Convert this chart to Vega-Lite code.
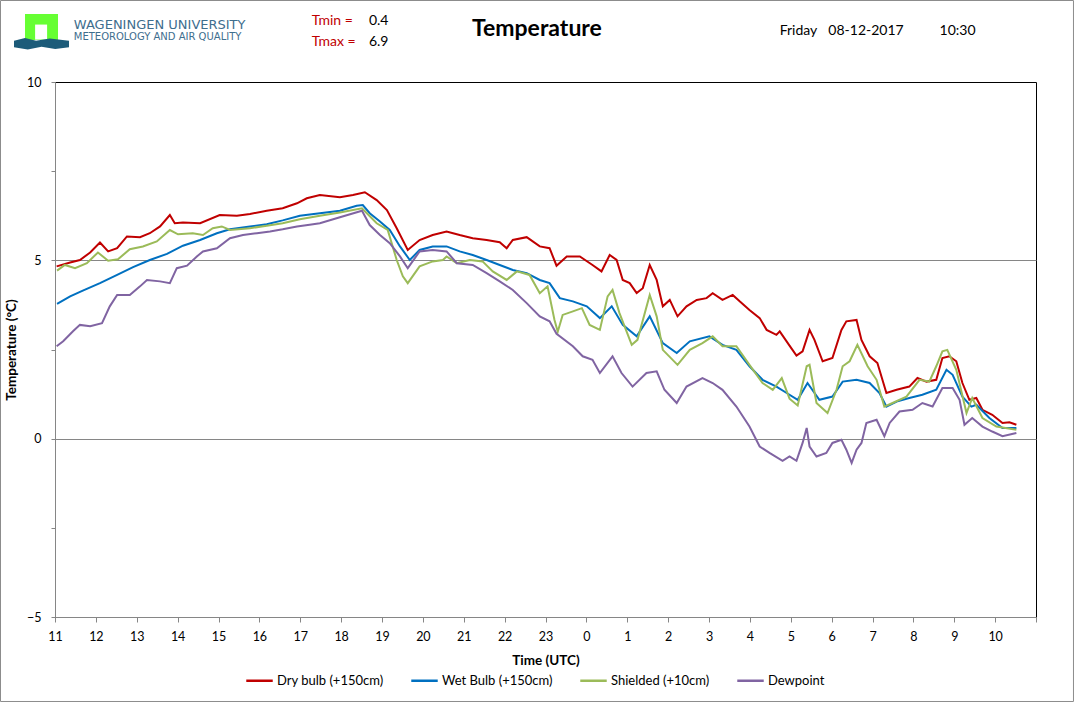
{
  "$schema": "https://vega.github.io/schema/vega-lite/v6.json",
  "description": "Wageningen University weather station: temperature over the last 24 hours",
  "width": 981,
  "height": 535,
  "autosize": {"type": "none"},
  "padding": {"left": 55, "top": 82, "right": 38, "bottom": 85},
  "background": "white",
  "config": {
    "font": "Lato",
    "view": {"stroke": "black", "strokeWidth": 1},
    "axis": {
      "domainColor": "#868686",
      "tickColor": "#868686",
      "gridColor": "#868686",
      "labelColor": "black",
      "labelFont": "Lato",
      "labelFontSize": 12.5,
      "labelFlush": false,
      "labelOverlap": false,
      "titleFont": "Lato",
      "titleFontSize": 13.5,
      "titleFontWeight": "bold",
      "titleColor": "black"
    },
    "legend": {
      "labelFont": "Lato",
      "labelFontSize": 13,
      "labelColor": "black",
      "labelLimit": 300
    }
  },
  "datasets": {
    "dry": [
      {"hour": 0.04, "temp": 4.83}, {"hour": 0.37, "temp": 4.94}, {"hour": 0.61, "temp": 5.01}, {"hour": 0.86, "temp": 5.22},
      {"hour": 1.10, "temp": 5.50}, {"hour": 1.30, "temp": 5.25}, {"hour": 1.52, "temp": 5.34}, {"hour": 1.76, "temp": 5.67},
      {"hour": 2.08, "temp": 5.65}, {"hour": 2.32, "temp": 5.76}, {"hour": 2.57, "temp": 5.95}, {"hour": 2.81, "temp": 6.27},
      {"hour": 2.93, "temp": 6.04}, {"hour": 3.13, "temp": 6.06}, {"hour": 3.55, "temp": 6.04}, {"hour": 4.03, "temp": 6.27},
      {"hour": 4.45, "temp": 6.25}, {"hour": 4.77, "temp": 6.30}, {"hour": 5.18, "temp": 6.39}, {"hour": 5.57, "temp": 6.46},
      {"hour": 5.92, "temp": 6.60}, {"hour": 6.16, "temp": 6.74}, {"hour": 6.48, "temp": 6.83}, {"hour": 6.97, "temp": 6.77},
      {"hour": 7.29, "temp": 6.83}, {"hour": 7.58, "temp": 6.91}, {"hour": 7.87, "temp": 6.69}, {"hour": 8.12, "temp": 6.41},
      {"hour": 8.36, "temp": 5.90}, {"hour": 8.63, "temp": 5.29}, {"hour": 8.92, "temp": 5.57}, {"hour": 9.24, "temp": 5.71},
      {"hour": 9.58, "temp": 5.81}, {"hour": 9.90, "temp": 5.71}, {"hour": 10.22, "temp": 5.62}, {"hour": 10.56, "temp": 5.57},
      {"hour": 10.88, "temp": 5.51}, {"hour": 11.05, "temp": 5.34}, {"hour": 11.20, "temp": 5.57}, {"hour": 11.54, "temp": 5.65},
      {"hour": 11.86, "temp": 5.39}, {"hour": 12.10, "temp": 5.34}, {"hour": 12.27, "temp": 4.85}, {"hour": 12.52, "temp": 5.11},
      {"hour": 12.84, "temp": 5.11}, {"hour": 13.15, "temp": 4.87}, {"hour": 13.37, "temp": 4.69}, {"hour": 13.57, "temp": 5.15},
      {"hour": 13.74, "temp": 5.01}, {"hour": 13.89, "temp": 4.45}, {"hour": 14.06, "temp": 4.36}, {"hour": 14.23, "temp": 4.08},
      {"hour": 14.38, "temp": 4.22}, {"hour": 14.55, "temp": 4.87}, {"hour": 14.72, "temp": 4.45}, {"hour": 14.87, "temp": 3.71},
      {"hour": 15.04, "temp": 3.89}, {"hour": 15.23, "temp": 3.43}, {"hour": 15.45, "temp": 3.71}, {"hour": 15.70, "temp": 3.89},
      {"hour": 15.94, "temp": 3.94}, {"hour": 16.09, "temp": 4.08}, {"hour": 16.33, "temp": 3.89}, {"hour": 16.58, "temp": 4.03},
      {"hour": 16.75, "temp": 3.85}, {"hour": 16.99, "temp": 3.61}, {"hour": 17.24, "temp": 3.38}, {"hour": 17.41, "temp": 3.05},
      {"hour": 17.65, "temp": 2.91}, {"hour": 17.73, "temp": 3.01}, {"hour": 17.97, "temp": 2.61}, {"hour": 18.14, "temp": 2.33},
      {"hour": 18.29, "temp": 2.45}, {"hour": 18.46, "temp": 3.05}, {"hour": 18.58, "temp": 2.77}, {"hour": 18.78, "temp": 2.17},
      {"hour": 19.02, "temp": 2.26}, {"hour": 19.24, "temp": 3.05}, {"hour": 19.36, "temp": 3.29}, {"hour": 19.61, "temp": 3.33},
      {"hour": 19.73, "temp": 2.77}, {"hour": 19.93, "temp": 2.31}, {"hour": 20.12, "temp": 2.12}, {"hour": 20.34, "temp": 1.28},
      {"hour": 20.59, "temp": 1.37}, {"hour": 20.90, "temp": 1.46}, {"hour": 21.10, "temp": 1.70}, {"hour": 21.32, "temp": 1.60},
      {"hour": 21.56, "temp": 1.65}, {"hour": 21.71, "temp": 2.26}, {"hour": 21.88, "temp": 2.31}, {"hour": 22.05, "temp": 2.17},
      {"hour": 22.20, "temp": 1.56}, {"hour": 22.37, "temp": 1.09}, {"hour": 22.54, "temp": 1.14}, {"hour": 22.69, "temp": 0.81},
      {"hour": 22.93, "temp": 0.67}, {"hour": 23.18, "temp": 0.44}, {"hour": 23.35, "temp": 0.46}, {"hour": 23.52, "temp": 0.39}
    ],
    "wet": [
      {"hour": 0.05, "temp": 3.78}, {"hour": 0.37, "temp": 3.99}, {"hour": 0.68, "temp": 4.15}, {"hour": 1.10, "temp": 4.36},
      {"hour": 1.52, "temp": 4.59}, {"hour": 1.91, "temp": 4.81}, {"hour": 2.32, "temp": 5.01}, {"hour": 2.74, "temp": 5.18},
      {"hour": 3.13, "temp": 5.41}, {"hour": 3.55, "temp": 5.57}, {"hour": 3.96, "temp": 5.76}, {"hour": 4.28, "temp": 5.87},
      {"hour": 4.77, "temp": 5.95}, {"hour": 5.18, "temp": 6.01}, {"hour": 5.57, "temp": 6.12}, {"hour": 5.99, "temp": 6.25},
      {"hour": 6.48, "temp": 6.32}, {"hour": 6.97, "temp": 6.39}, {"hour": 7.38, "temp": 6.53}, {"hour": 7.53, "temp": 6.55},
      {"hour": 7.70, "temp": 6.32}, {"hour": 7.95, "temp": 6.09}, {"hour": 8.19, "temp": 5.85}, {"hour": 8.44, "temp": 5.39},
      {"hour": 8.68, "temp": 5.01}, {"hour": 8.92, "temp": 5.29}, {"hour": 9.24, "temp": 5.39}, {"hour": 9.58, "temp": 5.39},
      {"hour": 9.90, "temp": 5.25}, {"hour": 10.22, "temp": 5.15}, {"hour": 10.56, "temp": 5.01}, {"hour": 10.88, "temp": 4.87},
      {"hour": 11.20, "temp": 4.73}, {"hour": 11.54, "temp": 4.64}, {"hour": 11.86, "temp": 4.45}, {"hour": 12.10, "temp": 4.36},
      {"hour": 12.35, "temp": 3.94}, {"hour": 12.67, "temp": 3.85}, {"hour": 13.01, "temp": 3.71}, {"hour": 13.33, "temp": 3.38},
      {"hour": 13.62, "temp": 3.71}, {"hour": 13.89, "temp": 3.19}, {"hour": 14.23, "temp": 2.87}, {"hour": 14.55, "temp": 3.43},
      {"hour": 14.87, "temp": 2.68}, {"hour": 15.21, "temp": 2.40}, {"hour": 15.53, "temp": 2.73}, {"hour": 16.01, "temp": 2.87},
      {"hour": 16.33, "temp": 2.63}, {"hour": 16.67, "temp": 2.49}, {"hour": 16.99, "temp": 2.03}, {"hour": 17.31, "temp": 1.65},
      {"hour": 17.65, "temp": 1.46}, {"hour": 17.90, "temp": 1.28}, {"hour": 18.17, "temp": 1.09}, {"hour": 18.41, "temp": 1.56},
      {"hour": 18.70, "temp": 1.09}, {"hour": 19.02, "temp": 1.18}, {"hour": 19.27, "temp": 1.60}, {"hour": 19.61, "temp": 1.65},
      {"hour": 19.93, "temp": 1.56}, {"hour": 20.17, "temp": 1.28}, {"hour": 20.34, "temp": 0.90}, {"hour": 20.59, "temp": 1.04},
      {"hour": 20.90, "temp": 1.14}, {"hour": 21.22, "temp": 1.23}, {"hour": 21.56, "temp": 1.37}, {"hour": 21.81, "temp": 1.93},
      {"hour": 21.96, "temp": 1.79}, {"hour": 22.20, "temp": 1.18}, {"hour": 22.42, "temp": 0.90}, {"hour": 22.54, "temp": 0.95},
      {"hour": 22.86, "temp": 0.58}, {"hour": 23.18, "temp": 0.30}, {"hour": 23.52, "temp": 0.30}
    ],
    "shielded": [
      {"hour": 0.05, "temp": 4.71}, {"hour": 0.24, "temp": 4.87}, {"hour": 0.49, "temp": 4.78}, {"hour": 0.78, "temp": 4.92},
      {"hour": 1.05, "temp": 5.22}, {"hour": 1.30, "temp": 4.99}, {"hour": 1.54, "temp": 5.03}, {"hour": 1.83, "temp": 5.31},
      {"hour": 2.15, "temp": 5.39}, {"hour": 2.49, "temp": 5.53}, {"hour": 2.81, "temp": 5.85}, {"hour": 3.01, "temp": 5.73},
      {"hour": 3.37, "temp": 5.76}, {"hour": 3.62, "temp": 5.71}, {"hour": 3.86, "temp": 5.90}, {"hour": 4.08, "temp": 5.95},
      {"hour": 4.28, "temp": 5.85}, {"hour": 4.77, "temp": 5.90}, {"hour": 5.18, "temp": 5.97}, {"hour": 5.57, "temp": 6.04},
      {"hour": 5.99, "temp": 6.15}, {"hour": 6.48, "temp": 6.25}, {"hour": 6.97, "temp": 6.34}, {"hour": 7.51, "temp": 6.46},
      {"hour": 7.63, "temp": 6.32}, {"hour": 7.87, "temp": 6.04}, {"hour": 8.14, "temp": 5.85}, {"hour": 8.36, "temp": 5.01},
      {"hour": 8.51, "temp": 4.55}, {"hour": 8.63, "temp": 4.36}, {"hour": 8.92, "temp": 4.83}, {"hour": 9.24, "temp": 4.97},
      {"hour": 9.49, "temp": 5.01}, {"hour": 9.58, "temp": 5.11}, {"hour": 9.83, "temp": 4.92}, {"hour": 10.15, "temp": 5.01},
      {"hour": 10.46, "temp": 4.97}, {"hour": 10.71, "temp": 4.69}, {"hour": 11.05, "temp": 4.45}, {"hour": 11.30, "temp": 4.69},
      {"hour": 11.61, "temp": 4.59}, {"hour": 11.86, "temp": 4.08}, {"hour": 12.05, "temp": 4.27}, {"hour": 12.22, "temp": 3.33},
      {"hour": 12.30, "temp": 3.00}, {"hour": 12.42, "temp": 3.47}, {"hour": 12.67, "temp": 3.57}, {"hour": 12.89, "temp": 3.66},
      {"hour": 13.08, "temp": 3.19}, {"hour": 13.33, "temp": 3.05}, {"hour": 13.52, "temp": 3.99}, {"hour": 13.64, "temp": 4.17},
      {"hour": 13.81, "temp": 3.52}, {"hour": 14.11, "temp": 2.63}, {"hour": 14.25, "temp": 2.77}, {"hour": 14.55, "temp": 4.03},
      {"hour": 14.72, "temp": 3.43}, {"hour": 14.87, "temp": 2.49}, {"hour": 15.23, "temp": 2.07}, {"hour": 15.53, "temp": 2.49},
      {"hour": 15.84, "temp": 2.68}, {"hour": 16.09, "temp": 2.87}, {"hour": 16.33, "temp": 2.59}, {"hour": 16.67, "temp": 2.59},
      {"hour": 16.99, "temp": 2.07}, {"hour": 17.31, "temp": 1.56}, {"hour": 17.56, "temp": 1.37}, {"hour": 17.78, "temp": 1.70},
      {"hour": 17.97, "temp": 1.12}, {"hour": 18.17, "temp": 0.93}, {"hour": 18.39, "temp": 2.03}, {"hour": 18.46, "temp": 2.07},
      {"hour": 18.63, "temp": 1.00}, {"hour": 18.90, "temp": 0.72}, {"hour": 19.12, "temp": 1.37}, {"hour": 19.27, "temp": 2.03},
      {"hour": 19.44, "temp": 2.17}, {"hour": 19.63, "temp": 2.63}, {"hour": 19.88, "temp": 2.03}, {"hour": 20.10, "temp": 1.65},
      {"hour": 20.29, "temp": 0.90}, {"hour": 20.49, "temp": 1.00}, {"hour": 20.83, "temp": 1.18}, {"hour": 21.15, "temp": 1.65},
      {"hour": 21.39, "temp": 1.60}, {"hour": 21.56, "temp": 2.03}, {"hour": 21.71, "temp": 2.45}, {"hour": 21.83, "temp": 2.49},
      {"hour": 22.05, "temp": 1.93}, {"hour": 22.30, "temp": 0.72}, {"hour": 22.44, "temp": 1.14}, {"hour": 22.69, "temp": 0.58},
      {"hour": 23.03, "temp": 0.34}, {"hour": 23.52, "temp": 0.25}
    ],
    "dew": [
      {"hour": 0.04, "temp": 2.59}, {"hour": 0.20, "temp": 2.73}, {"hour": 0.44, "temp": 3.01}, {"hour": 0.61, "temp": 3.19},
      {"hour": 0.86, "temp": 3.15}, {"hour": 1.15, "temp": 3.24}, {"hour": 1.34, "temp": 3.71}, {"hour": 1.52, "temp": 4.03},
      {"hour": 1.83, "temp": 4.03}, {"hour": 2.08, "temp": 4.27}, {"hour": 2.25, "temp": 4.45}, {"hour": 2.57, "temp": 4.41},
      {"hour": 2.81, "temp": 4.36}, {"hour": 2.98, "temp": 4.78}, {"hour": 3.23, "temp": 4.85}, {"hour": 3.47, "temp": 5.11},
      {"hour": 3.62, "temp": 5.25}, {"hour": 3.96, "temp": 5.34}, {"hour": 4.28, "temp": 5.62}, {"hour": 4.60, "temp": 5.71},
      {"hour": 4.94, "temp": 5.76}, {"hour": 5.26, "temp": 5.81}, {"hour": 5.57, "temp": 5.87}, {"hour": 5.92, "temp": 5.95},
      {"hour": 6.23, "temp": 6.00}, {"hour": 6.48, "temp": 6.04}, {"hour": 6.97, "temp": 6.21}, {"hour": 7.51, "temp": 6.39},
      {"hour": 7.70, "temp": 5.99}, {"hour": 7.95, "temp": 5.71}, {"hour": 8.19, "temp": 5.48}, {"hour": 8.44, "temp": 5.11},
      {"hour": 8.63, "temp": 4.78}, {"hour": 8.92, "temp": 5.25}, {"hour": 9.24, "temp": 5.29}, {"hour": 9.58, "temp": 5.25},
      {"hour": 9.83, "temp": 4.92}, {"hour": 10.22, "temp": 4.87}, {"hour": 10.56, "temp": 4.64}, {"hour": 10.88, "temp": 4.41},
      {"hour": 11.20, "temp": 4.17}, {"hour": 11.54, "temp": 3.80}, {"hour": 11.86, "temp": 3.43}, {"hour": 12.10, "temp": 3.29},
      {"hour": 12.27, "temp": 2.94}, {"hour": 12.67, "temp": 2.59}, {"hour": 12.91, "temp": 2.31}, {"hour": 13.15, "temp": 2.21},
      {"hour": 13.33, "temp": 1.84}, {"hour": 13.64, "temp": 2.31}, {"hour": 13.86, "temp": 1.84}, {"hour": 14.13, "temp": 1.46},
      {"hour": 14.47, "temp": 1.84}, {"hour": 14.72, "temp": 1.89}, {"hour": 14.91, "temp": 1.37}, {"hour": 15.21, "temp": 1.00},
      {"hour": 15.45, "temp": 1.46}, {"hour": 15.84, "temp": 1.70}, {"hour": 16.09, "temp": 1.56}, {"hour": 16.33, "temp": 1.37},
      {"hour": 16.67, "temp": 0.90}, {"hour": 16.99, "temp": 0.34}, {"hour": 17.24, "temp": -0.22}, {"hour": 17.48, "temp": -0.40},
      {"hour": 17.80, "temp": -0.62}, {"hour": 17.97, "temp": -0.50}, {"hour": 18.14, "temp": -0.62}, {"hour": 18.29, "temp": -0.12},
      {"hour": 18.39, "temp": 0.30}, {"hour": 18.46, "temp": -0.22}, {"hour": 18.63, "temp": -0.50}, {"hour": 18.87, "temp": -0.40},
      {"hour": 19.02, "temp": -0.12}, {"hour": 19.24, "temp": -0.03}, {"hour": 19.36, "temp": -0.31}, {"hour": 19.49, "temp": -0.68},
      {"hour": 19.61, "temp": -0.31}, {"hour": 19.73, "temp": -0.12}, {"hour": 19.85, "temp": 0.44}, {"hour": 20.10, "temp": 0.53},
      {"hour": 20.29, "temp": 0.07}, {"hour": 20.42, "temp": 0.44}, {"hour": 20.66, "temp": 0.76}, {"hour": 20.98, "temp": 0.81},
      {"hour": 21.22, "temp": 1.00}, {"hour": 21.47, "temp": 0.90}, {"hour": 21.71, "temp": 1.42}, {"hour": 21.96, "temp": 1.42},
      {"hour": 22.13, "temp": 1.09}, {"hour": 22.25, "temp": 0.39}, {"hour": 22.44, "temp": 0.58}, {"hour": 22.69, "temp": 0.34},
      {"hour": 22.93, "temp": 0.20}, {"hour": 23.18, "temp": 0.07}, {"hour": 23.52, "temp": 0.16}
    ]
  },
  "layer": [
    {
      "encoding": {
        "x": {
          "field": "hour",
          "type": "quantitative",
          "scale": {"domain": [0, 24], "nice": false, "zero": false},
          "axis": {
            "title": "Time (UTC)",
            "values": [0, 1, 2, 3, 4, 5, 6, 7, 8, 9, 10, 11, 12, 13, 14, 15, 16, 17, 18, 19, 20, 21, 22, 23, 24],
            "labelExpr": "datum.value < 24 ? '' + ((datum.value + 11) % 24) : ''",
            "grid": false,
            "tickSize": 5,
            "labelPadding": 8,
            "titlePadding": 11
          }
        },
        "y": {
          "field": "temp",
          "type": "quantitative",
          "scale": {"domain": [-5, 10], "nice": false, "zero": false},
          "axis": {
            "title": "Temperature (°C)",
            "values": [-5, -2.5, 0, 2.5, 5, 7.5, 10],
            "labelExpr": "datum.value % 5 === 0 ? datum.label : ''",
            "tickSize": 4,
            "labelPadding": 10,
            "titlePadding": 8,
            "grid": true,
            "gridOpacity": {"condition": {"test": "datum.value === 0 || datum.value === 5", "value": 1}, "value": 0}
          }
        }
      },
      "layer": [
        {
          "data": {"name": "dry"},
          "mark": {"type": "line", "strokeWidth": 2},
          "encoding": {
            "color": {
              "datum": "Dry bulb (+150cm)",
              "type": "nominal",
              "scale": {
                "domain": ["Dry bulb (+150cm)", "Wet Bulb (+150cm)", "Shielded (+10cm)", "Dewpoint"],
                "range": ["#C00000", "#0070C0", "#9BBB59", "#8064A2"]
              },
              "legend": {
                "title": null,
                "orient": "none",
                "legendX": 190,
                "legendY": 584,
                "direction": "horizontal",
                "symbolType": "stroke",
                "symbolStrokeWidth": 2.5,
                "symbolSize": 700,
                "labelOffset": 3,
                "columnPadding": 22
              }
            }
          }
        },
        {
          "data": {"name": "wet"},
          "mark": {"type": "line", "strokeWidth": 2},
          "encoding": {"color": {"datum": "Wet Bulb (+150cm)", "type": "nominal"}}
        },
        {
          "data": {"name": "shielded"},
          "mark": {"type": "line", "strokeWidth": 2},
          "encoding": {"color": {"datum": "Shielded (+10cm)", "type": "nominal"}}
        },
        {
          "data": {"name": "dew"},
          "mark": {"type": "line", "strokeWidth": 2},
          "encoding": {"color": {"datum": "Dewpoint", "type": "nominal"}}
        }
      ]
    },
    {
      "data": {"values": [{}]},
      "mark": {"type": "rect", "fillOpacity": 0, "stroke": "#8c8c8c", "strokeWidth": 1},
      "encoding": {
        "x": {"datum": -1.333, "type": "quantitative"},
        "x2": {"datum": 24.917},
        "y": {"datum": 12.285, "type": "quantitative"},
        "y2": {"datum": -7.369}
      }
    },
    {
      "data": {"values": [{}]},
      "mark": {"type": "point", "shape": "M-1,-0.79L1,-0.79L1,0.79L-1,0.79Z", "filled": true, "opacity": 1, "color": "#66FF33", "size": 1089, "strokeWidth": 0},
      "encoding": {"x": {"datum": -0.33, "type": "quantitative"}, "y": {"datum": 11.54, "type": "quantitative"}}
    },
    {
      "data": {"values": [{}]},
      "mark": {"type": "point", "shape": "M-0.8,-1L0.8,-1L0.8,1L-0.8,1Z", "filled": true, "opacity": 1, "color": "white", "size": 225, "strokeWidth": 0},
      "encoding": {"x": {"datum": -0.34, "type": "quantitative"}, "y": {"datum": 11.4, "type": "quantitative"}}
    },
    {
      "data": {"values": [{}]},
      "mark": {"type": "point", "shape": "M-1,-0.1L-0.6,-0.2L-0.2,-0.1L0.3,-0.18L1,-0.1L1,0.14L0.5,0.2L0,0.12L-0.5,0.22L-1,0.14Z", "filled": true, "opacity": 1, "color": "#1C5B79", "size": 3025, "strokeWidth": 0},
      "encoding": {"x": {"datum": -0.33, "type": "quantitative"}, "y": {"datum": 11.08, "type": "quantitative"}}
    },
    {
      "data": {"values": [{}]},
      "mark": {"type": "text", "text": "Temperature", "font": "Lato", "fontSize": 23, "fontWeight": "bold", "color": "black", "align": "center", "baseline": "middle"},
      "encoding": {"x": {"datum": 11.79, "type": "quantitative"}, "y": {"datum": 11.49, "type": "quantitative"}}
    },
    {
      "data": {"values": [{}]},
      "mark": {"type": "text", "text": "WAGENINGEN UNIVERSITY", "font": "DejaVu Sans", "fontSize": 13, "color": "#3E6E8E", "align": "left", "baseline": "middle"},
      "encoding": {"x": {"datum": 0.46, "type": "quantitative"}, "y": {"datum": 11.61, "type": "quantitative"}}
    },
    {
      "data": {"values": [{}]},
      "mark": {"type": "text", "text": "METEOROLOGY AND AIR QUALITY", "font": "DejaVu Sans", "fontSize": 10, "color": "#3E6E8E", "align": "left", "baseline": "middle"},
      "encoding": {"x": {"datum": 0.46, "type": "quantitative"}, "y": {"datum": 11.26, "type": "quantitative"}}
    },
    {
      "data": {"values": [{}]},
      "mark": {"type": "text", "text": "Tmin =", "fontSize": 14, "color": "#C00000", "align": "left", "baseline": "middle"},
      "encoding": {"x": {"datum": 6.28, "type": "quantitative"}, "y": {"datum": 11.71, "type": "quantitative"}}
    },
    {
      "data": {"values": [{}]},
      "mark": {"type": "text", "text": "Tmax =", "fontSize": 14, "color": "#C00000", "align": "left", "baseline": "middle"},
      "encoding": {"x": {"datum": 6.28, "type": "quantitative"}, "y": {"datum": 11.12, "type": "quantitative"}}
    },
    {
      "data": {"values": [{}]},
      "mark": {"type": "text", "text": "0.4", "fontSize": 14, "color": "black", "align": "left", "baseline": "middle"},
      "encoding": {"x": {"datum": 7.68, "type": "quantitative"}, "y": {"datum": 11.71, "type": "quantitative"}}
    },
    {
      "data": {"values": [{}]},
      "mark": {"type": "text", "text": "6.9", "fontSize": 14, "color": "black", "align": "left", "baseline": "middle"},
      "encoding": {"x": {"datum": 7.68, "type": "quantitative"}, "y": {"datum": 11.12, "type": "quantitative"}}
    },
    {
      "data": {"values": [{}]},
      "mark": {"type": "text", "text": "Friday", "fontSize": 14, "color": "black", "align": "left", "baseline": "middle"},
      "encoding": {"x": {"datum": 17.73, "type": "quantitative"}, "y": {"datum": 11.43, "type": "quantitative"}}
    },
    {
      "data": {"values": [{}]},
      "mark": {"type": "text", "text": "08-12-2017", "fontSize": 14, "color": "black", "align": "left", "baseline": "middle"},
      "encoding": {"x": {"datum": 18.92, "type": "quantitative"}, "y": {"datum": 11.43, "type": "quantitative"}}
    },
    {
      "data": {"values": [{}]},
      "mark": {"type": "text", "text": "10:30", "fontSize": 14, "color": "black", "align": "left", "baseline": "middle"},
      "encoding": {"x": {"datum": 21.64, "type": "quantitative"}, "y": {"datum": 11.43, "type": "quantitative"}}
    }
  ]
}
